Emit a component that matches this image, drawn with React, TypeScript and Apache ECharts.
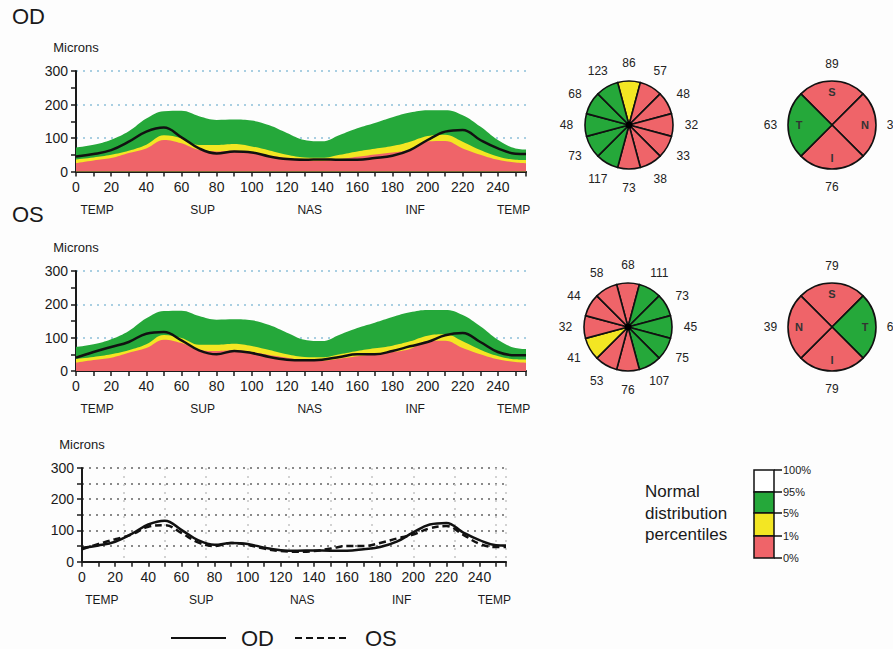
import React, { useEffect, useRef } from 'react';
import * as echarts from 'echarts';

// ---- data ----
const positions = [0, 10, 20, 30, 40, 50, 60, 70, 80, 90, 100, 110, 120, 130, 140, 150, 160, 170, 180, 190, 200, 210, 220, 230, 240, 250, 256];
const normal95 = [72, 80, 95, 120, 158, 180, 181, 165, 154, 155, 152, 138, 115, 94, 90, 109, 129, 145, 162, 176, 183, 183, 168, 134, 94, 69, 66];
const normal5 = [36, 42, 50, 62, 80, 108, 99, 79, 79, 82, 75, 63, 50, 42, 41, 50, 60, 68, 76, 89, 106, 110, 89, 64, 45, 35, 34];
const normal1 = [25, 33, 40, 55, 69, 94, 84, 64, 60, 62, 57, 48, 40, 32, 31, 37, 44, 51, 57, 66, 90, 91, 69, 50, 35, 27, 25];
const odThickness = [45, 52, 64, 89, 119, 131, 102, 69, 54, 60, 57, 45, 37, 35, 36, 35, 35, 40, 47, 64, 94, 119, 124, 94, 69, 53, 52];
const osThickness = [40, 57, 72, 87, 112, 117, 92, 62, 50, 60, 54, 42, 34, 32, 34, 42, 50, 50, 60, 74, 87, 107, 114, 87, 57, 47, 47];

const regionPositions = [12, 72, 133, 193, 249];
const regionLabels = ['TEMP', 'SUP', 'NAS', 'INF', 'TEMP'];

const odClockValues = [86, 57, 48, 32, 33, 38, 73, 117, 73, 48, 68, 123];
const odClockClass = ['y', 'r', 'r', 'r', 'r', 'r', 'r', 'g', 'g', 'g', 'g', 'g'];
const osClockValues = [68, 111, 73, 45, 75, 107, 76, 53, 41, 32, 44, 58];
const osClockClass = ['r', 'g', 'g', 'g', 'g', 'g', 'r', 'r', 'y', 'r', 'r', 'r'];

const odQuadLetters = ['S', 'N', 'I', 'T'];
const odQuadValues = [89, 38, 76, 63];
const odQuadClass = ['r', 'r', 'r', 'g'];
const osQuadLetters = ['S', 'T', 'I', 'N'];
const osQuadValues = [79, 64, 79, 39];
const osQuadClass = ['r', 'g', 'r', 'r'];

const percentileLabels = ['100%', '95%', '5%', '1%', '0%'];

// ---- styles ----
const FONT = "'Liberation Sans', Arial, sans-serif";
const GREEN = '#25a83a';
const YELLOW = '#f3e623';
const RED = '#ef6469';
const INK = '#1a1a1a';
const classColor: Record<string, string> = { g: GREEN, y: YELLOW, r: RED };

const pairs = (vals: number[]) => positions.map((x, i) => [x, vals[i]]);

function mainXAxis(gridIndex: number) {
  return {
    type: 'value', gridIndex, min: 0, max: 256, interval: 10,
    axisLine: { show: true, onZero: false, lineStyle: { color: INK, width: 2 } },
    axisTick: { show: true, length: 5, lineStyle: { color: INK, width: 1.5 } },
    axisLabel: {
      fontSize: 14, color: INK, fontFamily: FONT, margin: 8,
      formatter: (v: number) => (v % 20 === 0 ? String(v) : ''),
    },
    splitLine: { show: false },
  };
}
function regionXAxis(gridIndex: number) {
  return {
    type: 'value', gridIndex, min: 0, max: 256, position: 'bottom', offset: 24,
    axisLine: { show: false }, axisTick: { show: false }, splitLine: { show: false },
    axisLabel: {
      customValues: regionPositions,
      formatter: (v: number) => regionLabels[regionPositions.indexOf(v)] ?? '',
      fontSize: 12, color: INK, fontFamily: FONT, margin: 8,
    },
  };
}
function yAxisFor(gridIndex: number, gridColor: string, minorGrid: boolean) {
  return {
    type: 'value', gridIndex, min: 0, max: 300, interval: 100,
    name: 'Microns', nameLocation: 'end', nameGap: 17,
    nameTextStyle: { fontSize: 13, color: INK, fontFamily: FONT, align: 'center' },
    axisLine: { show: true, onZero: false, lineStyle: { color: INK, width: 2 } },
    axisTick: { show: true, length: 5, lineStyle: { color: INK, width: 1.5 } },
    minorTick: { show: true, splitNumber: 2, length: 5, lineStyle: { color: INK, width: 1.5 } },
    axisLabel: { fontSize: 14, color: INK, fontFamily: FONT, margin: 8 },
    splitLine: { show: true, lineStyle: { color: gridColor, type: [2, 5], width: 2 } },
    minorSplitLine: { show: minorGrid, lineStyle: { color: gridColor, type: [2, 5], width: 2 } },
  };
}
function bandSeries(xi: number, yi: number, measured: number[], name: string) {
  const area = (vals: number[], color: string, n: string) => ({
    type: 'line', name: n, xAxisIndex: xi, yAxisIndex: yi, data: pairs(vals),
    smooth: 0.4, symbol: 'none', silent: true,
    lineStyle: { width: 0 }, areaStyle: { color, opacity: 1 },
  });
  return [
    area(normal95, GREEN, name + ' 95%'),
    area(normal5, YELLOW, name + ' 5%'),
    area(normal1, RED, name + ' 1%'),
    {
      type: 'line', name, xAxisIndex: xi, yAxisIndex: yi, data: pairs(measured),
      smooth: 0.4, symbol: 'none', silent: true, lineStyle: { color: '#111', width: 2.5 },
    },
  ];
}

const valueLabel = { show: true, position: 'inside', formatter: '{b}', fontSize: 12, color: '#222', fontFamily: FONT };

function clockSeries(center: number[], values: number[], classes: string[]) {
  return [
    {
      type: 'pie', center, radius: 44, startAngle: 105, clockwise: true, silent: true,
      data: values.map((v, i) => ({ value: 1, name: String(v), itemStyle: { color: classColor[classes[i]] } })),
      itemStyle: { borderColor: '#111', borderWidth: 1.6 },
      label: { show: false }, labelLine: { show: false },
    },
    {
      type: 'pie', center, radius: [52, 67], startAngle: 105, clockwise: true, silent: true,
      data: values.map((v) => ({ value: 1, name: String(v) })),
      itemStyle: { color: 'rgba(0,0,0,0)', borderWidth: 0 },
      label: valueLabel, labelLine: { show: false },
    },
    {
      type: 'pie', center, radius: 3.5, silent: true,
      data: [{ value: 1, name: 'c' }],
      itemStyle: { color: '#000' }, label: { show: false }, labelLine: { show: false },
    },
  ];
}
function quadSeries(center: number[], letters: string[], values: number[], classes: string[]) {
  return [
    {
      type: 'pie', center, radius: 44, startAngle: 135, clockwise: true, silent: true,
      data: letters.map((l, i) => ({ value: 1, name: l, itemStyle: { color: classColor[classes[i]] } })),
      itemStyle: { borderColor: '#111', borderWidth: 1.6 },
      label: { show: false }, labelLine: { show: false },
    },
    {
      type: 'pie', center, radius: [16, 44], startAngle: 135, clockwise: true, silent: true,
      data: letters.map((l) => ({ value: 1, name: l })),
      itemStyle: { color: 'rgba(0,0,0,0)', borderWidth: 0 },
      label: { show: true, position: 'inside', formatter: '{b}', fontSize: 11, fontWeight: 'bold', color: '#333', fontFamily: FONT },
      labelLine: { show: false },
    },
    {
      type: 'pie', center, radius: [51, 66], startAngle: 135, clockwise: true, silent: true,
      data: values.map((v) => ({ value: 1, name: String(v) })),
      itemStyle: { color: 'rgba(0,0,0,0)', borderWidth: 0 },
      label: valueLabel, labelLine: { show: false },
    },
  ];
}

function percentileLegend() {
  const x = 754, w = 20;
  const bounds = [470, 492, 513, 536, 558];
  const fills = ['#ffffff', GREEN, YELLOW, RED];
  const els: any[] = [
    {
      type: 'text', left: 645, top: 481,
      style: { text: 'Normal\ndistribution\npercentiles', fontSize: 17, lineHeight: 21.5, fill: INK, fontFamily: FONT },
    },
  ];
  fills.forEach((f, i) => {
    els.push({
      type: 'rect', shape: { x, y: bounds[i], width: w, height: bounds[i + 1] - bounds[i] },
      style: { fill: f, stroke: '#111', lineWidth: 1.5 },
    });
  });
  percentileLabels.forEach((lab, i) => {
    els.push({ type: 'line', shape: { x1: x + w, y1: bounds[i], x2: x + w + 8, y2: bounds[i] }, style: { stroke: '#111', lineWidth: 1.5 } });
    els.push({
      type: 'text', x: x + w + 9, y: bounds[i],
      style: { text: lab, fontSize: 11, fill: INK, fontFamily: "'Liberation Sans Narrow', 'Liberation Sans', sans-serif", verticalAlign: 'middle' },
    });
  });
  return els;
}

export default function App() {
  const ref = useRef<HTMLDivElement>(null);
  useEffect(() => {
    if (!ref.current) return;
    const chart = echarts.init(ref.current, undefined, { renderer: 'svg' });
    const option: any = {
      animation: false,
      backgroundColor: '#fdfdfd',
      textStyle: { fontFamily: FONT },
      title: [
        { text: 'OD', left: 12, top: 5, padding: 0, textStyle: { fontSize: 22, fontWeight: 'normal', color: INK, fontFamily: FONT } },
        { text: 'OS', left: 12, top: 203, padding: 0, textStyle: { fontSize: 22, fontWeight: 'normal', color: INK, fontFamily: FONT } },
      ],
      grid: [
        { left: 76, top: 71, width: 450, height: 100.5 },
        { left: 76, top: 271, width: 450, height: 100 },
        { left: 82, top: 468, width: 424, height: 93.7 },
      ],
      xAxis: [
        mainXAxis(0), regionXAxis(0),
        mainXAxis(1), regionXAxis(1),
        mainXAxis(2), regionXAxis(2),
        {
          type: 'value', gridIndex: 2, min: 0, max: 256, interval: 25, position: 'top',
          axisLine: { show: false }, axisTick: { show: false }, axisLabel: { show: false },
          splitLine: { show: true, lineStyle: { color: '#c4c4c4', type: [2, 6], width: 1.5 } },
        },
      ],
      yAxis: [
        yAxisFor(0, '#a9cfe2', false),
        yAxisFor(1, '#a9cfe2', false),
        yAxisFor(2, '#8a8a8a', true),
      ],
      legend: {
        data: ['OD', 'OS'], left: 170, top: 627, padding: 0,
        itemWidth: 55, itemHeight: 14, itemGap: 20,
        itemStyle: { opacity: 0, color: 'rgba(0,0,0,0)', borderWidth: 0 },
        textStyle: { fontSize: 22, color: INK, fontFamily: FONT, padding: [0, 0, 0, 10] },
        selectedMode: false,
      },
      series: [
        ...bandSeries(0, 0, odThickness, 'OD thickness'),
        ...bandSeries(2, 1, osThickness, 'OS thickness'),
        {
          type: 'line', name: 'OD', xAxisIndex: 4, yAxisIndex: 2, data: pairs(odThickness),
          smooth: 0.4, symbol: 'none', silent: true, itemStyle: { color: '#111' },
          lineStyle: { color: '#111', width: 2.5 },
        },
        {
          type: 'line', name: 'OS', xAxisIndex: 4, yAxisIndex: 2, data: pairs(osThickness),
          smooth: 0.4, symbol: 'none', silent: true, itemStyle: { color: '#111' },
          lineStyle: { color: '#111', width: 2.5, type: [7, 4] },
        },
        ...clockSeries([629, 125], odClockValues, odClockClass),
        ...quadSeries([832, 125], odQuadLetters, odQuadValues, odQuadClass),
        ...clockSeries([628, 327], osClockValues, osClockClass),
        ...quadSeries([832, 327], osQuadLetters, osQuadValues, osQuadClass),
      ],
      graphic: percentileLegend(),
    };
    chart.setOption(option);
    return () => chart.dispose();
  }, []);
  return <div ref={ref} style={{ position: 'absolute', left: 0, top: 0, width: 893, height: 649 }} />;
}
